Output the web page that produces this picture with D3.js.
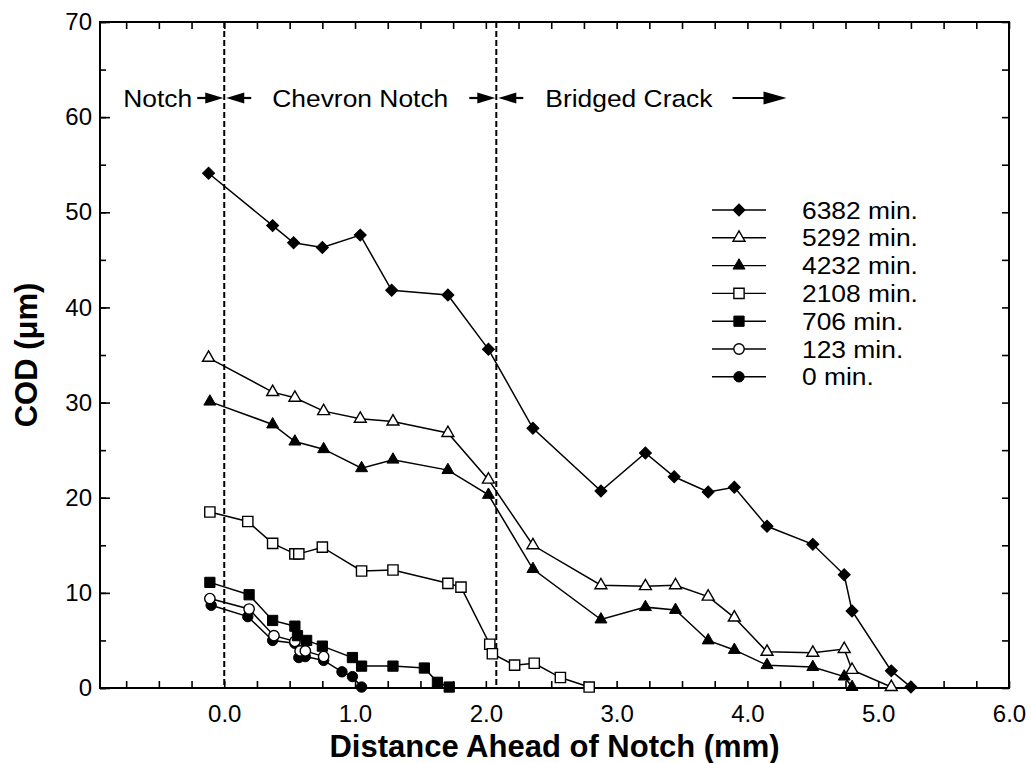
<!DOCTYPE html>
<html><head><meta charset="utf-8">
<script src="https://cdn.jsdelivr.net/npm/d3@7"></script>
<style>
body{margin:0;background:#fff}
svg{display:block}
text{font-family:"Liberation Sans",Arial,Helvetica,sans-serif;fill:#000}
</style>
</head><body>
<svg id="c" width="1031" height="763"></svg>
<script>
// ---------- data ----------
const seriesNames = ["6382 min.", "5292 min.", "4232 min.", "2108 min.", "706 min.", "123 min.", "0 min."];
const seriesMarkers = ["diamond", "triangleOpen", "triangle", "squareOpen", "square", "circleOpen", "circle"];

const x6382 = [-0.12, 0.37, 0.53, 0.75, 1.04, 1.28, 1.71, 2.02, 2.36, 2.88, 3.22, 3.44, 3.70, 3.90, 4.15, 4.50, 4.74, 4.80, 5.10, 5.25];
const y6382 = [54.1, 48.6, 46.8, 46.3, 47.6, 41.8, 41.3, 35.6, 27.3, 20.7, 24.7, 22.2, 20.6, 21.1, 17.0, 15.1, 11.9, 8.1, 1.8, 0.1];

const x5292 = [-0.12, 0.37, 0.54, 0.76, 1.04, 1.29, 1.71, 2.02, 2.36, 2.88, 3.22, 3.45, 3.70, 3.90, 4.15, 4.50, 4.74, 4.80, 5.10];
const y5292 = [34.7, 31.1, 30.5, 29.1, 28.3, 28.0, 26.8, 21.9, 15.0, 10.8, 10.7, 10.8, 9.6, 7.4, 3.8, 3.7, 4.1, 1.9, 0.1];

const x4232 = [-0.11, 0.37, 0.54, 0.76, 1.05, 1.29, 1.71, 2.02, 2.36, 2.88, 3.22, 3.45, 3.70, 3.90, 4.15, 4.50, 4.74, 4.80];
const y4232 = [30.1, 27.7, 25.9, 25.1, 23.1, 24.0, 22.9, 20.3, 12.5, 7.2, 8.5, 8.2, 5.0, 4.0, 2.4, 2.2, 1.2, 0.1];

const x2108 = [-0.11, 0.18, 0.37, 0.54, 0.57, 0.75, 1.05, 1.29, 1.71, 1.81, 2.03, 2.05, 2.22, 2.37, 2.57, 2.79];
const y2108 = [18.5, 17.5, 15.2, 14.1, 14.1, 14.8, 12.3, 12.4, 11.0, 10.6, 4.6, 3.6, 2.4, 2.6, 1.1, 0.1];

const x706 = [-0.11, 0.19, 0.37, 0.54, 0.56, 0.63, 0.75, 0.98, 1.05, 1.29, 1.53, 1.63, 1.72];
const y706 = [11.1, 9.8, 7.1, 6.5, 5.5, 5.0, 4.4, 3.2, 2.3, 2.3, 2.1, 0.6, 0.1];

const x123 = [-0.11, 0.19, 0.38, 0.54, 0.58, 0.62, 0.76];
const y123 = [9.4, 8.3, 5.5, 4.9, 3.9, 3.9, 3.3];

const x0 = [-0.10, 0.18, 0.37, 0.54, 0.57, 0.62, 0.76, 0.90, 0.98, 1.05];
const y0 = [8.7, 7.5, 5.0, 4.7, 3.2, 3.3, 2.9, 1.7, 1.2, 0.1];

const xTickValues = [0, 1, 2, 3, 4, 5, 6];
const yTickValues = [0, 10, 20, 30, 40, 50, 60, 70];
const regionLabels = ["Notch", "Chevron Notch", "Bridged Crack"];
const regionBoundaries = [0, 2.08];
const xTitle = "Distance Ahead of Notch (mm)";
const yTitle = "COD (\u03bcm)";

const seriesX = [x6382, x5292, x4232, x2108, x706, x123, x0];
const seriesY = [y6382, y5292, y4232, y2108, y706, y123, y0];

// ---------- layout ----------
const L = 100, R = 1009, T = 22, B = 688;
const svg = d3.select("#c");
const x = d3.scaleLinear().domain([-0.95, 6]).range([L, R]);
const y = d3.scaleLinear().domain([0, 70]).range([B, T]);
const FONT = '"Liberation Sans",Arial,Helvetica,sans-serif';
const SX = 1.1; // horizontal stretch of the scanned lettering

const xMinor = d3.range(-0.75, 6.001, 0.25);
const yMinor = d3.range(0, 70.01, 5);

function styleAxis(g) {
  g.select(".domain").remove();
  g.selectAll(".tick line").attr("stroke", "#000").attr("stroke-width", 1.6);
}
svg.append("g").attr("transform", `translate(0,${B})`)
  .call(d3.axisBottom(x).tickValues(xMinor).tickSize(-7).tickFormat(""))
  .call(styleAxis);
svg.append("g").attr("transform", `translate(0,${T})`)
  .call(d3.axisTop(x).tickValues(xMinor).tickSize(-7).tickFormat(""))
  .call(styleAxis);
svg.append("g").attr("transform", `translate(${L},0)`)
  .call(d3.axisLeft(y).tickValues(yMinor).tickSize(-6).tickFormat(""))
  .call(styleAxis);
svg.append("g").attr("transform", `translate(${L},0)`)
  .call(d3.axisLeft(y).tickValues(yTickValues).tickSize(-10).tickFormat(""))
  .call(styleAxis);
svg.append("g").attr("transform", `translate(${R},0)`)
  .call(d3.axisRight(y).tickValues(yMinor).tickSize(-7).tickFormat(""))
  .call(styleAxis);

// tick labels
const gxl = svg.append("g").attr("transform", `translate(0,${B})`)
  .call(d3.axisBottom(x).tickValues(xTickValues).tickSize(0).tickPadding(17).tickFormat(d3.format(".1f")));
gxl.select(".domain").remove();
gxl.selectAll("text").attr("font-size", 24).attr("font-family", FONT).attr("fill", "#000");

const gyl = svg.append("g").attr("transform", `translate(${L},0)`)
  .call(d3.axisLeft(y).tickValues(yTickValues).tickSize(0).tickPadding(8).tickFormat(d3.format("d")));
gyl.select(".domain").remove();
gyl.selectAll("text").attr("font-size", 24).attr("font-family", FONT).attr("fill", "#000");

// frame
svg.append("rect").attr("x", L).attr("y", T).attr("width", R - L).attr("height", B - T)
  .attr("fill", "none").attr("stroke", "#000").attr("stroke-width", 2);

// dashed boundaries
svg.selectAll(".bnd").data(regionBoundaries).enter().append("line")
  .attr("x1", d => x(d)).attr("x2", d => x(d)).attr("y1", T).attr("y2", B)
  .attr("stroke", "#000").attr("stroke-width", 2).attr("stroke-dasharray", "6,3");

// axis titles
svg.append("text").attr("x", (L + R) / 2).attr("y", 757).attr("text-anchor", "middle")
  .attr("font-size", 31).attr("font-weight", "bold").text(xTitle);
svg.append("text").attr("transform", `translate(37,${(T + B) / 2}) rotate(-90)`).attr("text-anchor", "middle")
  .attr("font-size", 31).attr("font-weight", "bold").text(yTitle);

// ---------- markers ----------
function markerPath(type) {
  if (type.startsWith("diamond")) return d3.symbol(d3.symbolSquare, 72)();
  if (type.startsWith("triangle")) return d3.symbol(d3.symbolTriangle, 62)();
  if (type.startsWith("square")) return d3.symbol(d3.symbolSquare, 105)();
  return d3.symbol(d3.symbolCircle, 85)();
}
function drawMarker(g, type, cx, cy) {
  const open = type.endsWith("Open");
  const rot = type.startsWith("diamond") ? " rotate(45)" : "";
  g.append("path").attr("d", markerPath(type))
    .attr("transform", `translate(${cx},${cy})${rot}`)
    .attr("fill", open ? "#fff" : "#000")
    .attr("stroke", "#000").attr("stroke-width", open ? 1.4 : 1);
}

const line = d3.line().x(d => x(d[0])).y(d => y(d[1]));
const order = d3.range(seriesNames.length).reverse();
order.forEach(i => {
  const pts = seriesX[i].map((v, k) => [v, seriesY[i][k]]);
  const g = svg.append("g");
  g.append("path").datum(pts).attr("d", line).attr("fill", "none")
    .attr("stroke", "#000").attr("stroke-width", 1.5);
  pts.forEach(p => drawMarker(g, seriesMarkers[i], x(p[0]), y(p[1])));
});

// ---------- legend ----------
const legRow0 = 210, legStep = 27.8;
seriesNames.forEach((name, i) => {
  const ry = legRow0 + i * legStep;
  const g = svg.append("g");
  g.append("line").attr("x1", 712).attr("x2", 766).attr("y1", ry).attr("y2", ry)
    .attr("stroke", "#000").attr("stroke-width", 1.4);
  drawMarker(g, seriesMarkers[i], 739, ry);
  g.append("text").attr("transform", `translate(802,${ry + 8.5}) scale(${SX},1)`)
    .attr("font-size", 24).text(name);
});

// ---------- region annotations ----------
const annY = 98;
function arrow(x0, x1, yy, headLen, halfW) {
  const dir = Math.sign(x1 - x0);
  const base = x1 - dir * headLen;
  svg.append("line").attr("x1", x0).attr("x2", base + dir).attr("y1", yy).attr("y2", yy)
    .attr("stroke", "#000").attr("stroke-width", 2.2);
  svg.append("path").attr("d", `M${x1},${yy}L${base},${yy - halfW}L${base},${yy + halfW}Z`).attr("fill", "#000");
}
function stretchedText(str, x0, yy) {
  return svg.append("text").attr("transform", `translate(${x0},${yy}) scale(${SX},1)`)
    .attr("font-size", 24).text(str);
}
stretchedText(regionLabels[0], x(regionBoundaries[0]) - 101, annY + 8.5);
stretchedText(regionLabels[1], x(regionBoundaries[0]) + 48, annY + 8.5);
const t3 = stretchedText(regionLabels[2], x(regionBoundaries[1]) + 49, annY + 8.5);
regionBoundaries.forEach(b => {
  const bx = x(b);
  arrow(bx - 27, bx - 1, annY, 18, 5.5);
  arrow(bx + 27, bx + 2, annY, 18, 5.5);
});
const t3end = x(regionBoundaries[1]) + 49 + t3.node().getComputedTextLength() * SX;
arrow(t3end + 20, t3end + 74, annY, 23, 6.5);
</script>
</body></html>
